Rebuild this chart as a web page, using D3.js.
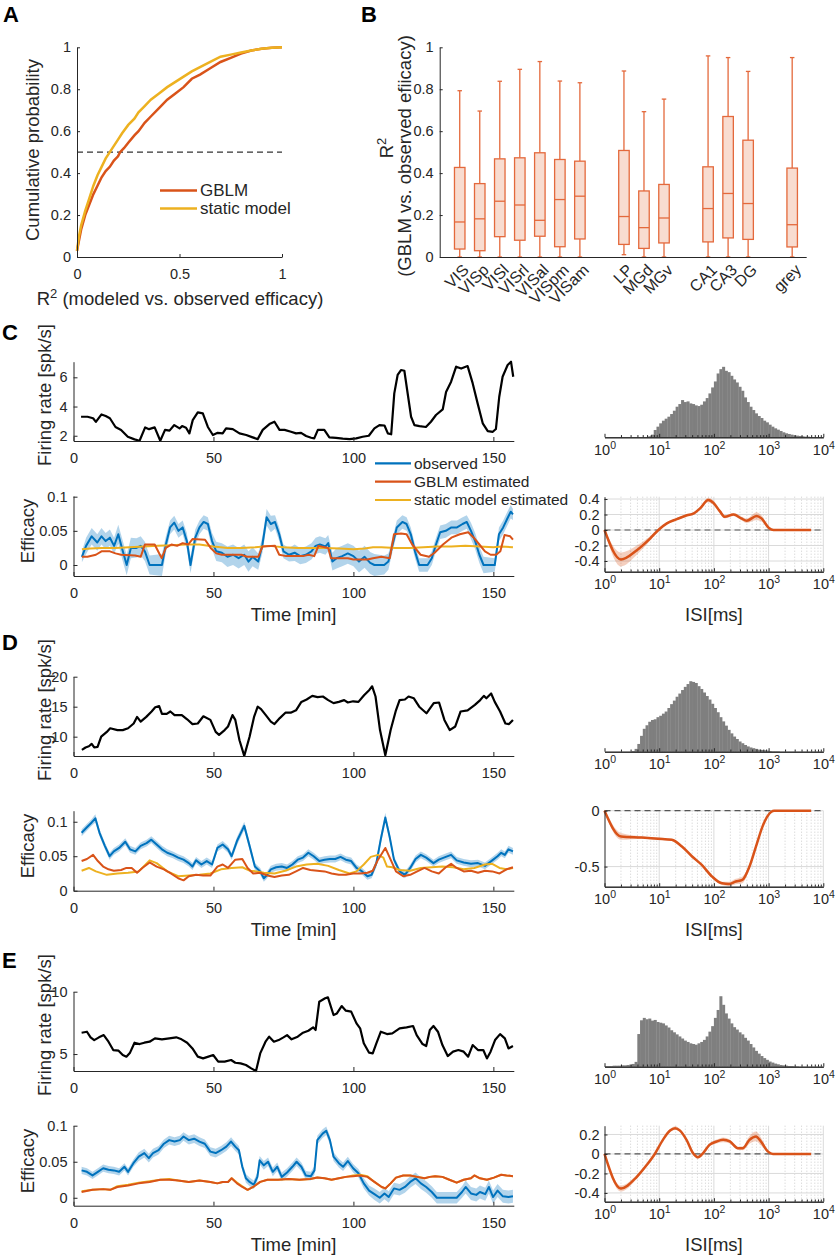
<!DOCTYPE html>
<html><head><meta charset="utf-8">
<script src="https://cdn.jsdelivr.net/npm/d3@7"></script>
<style>body{margin:0;background:#fff} svg{font-family:"Liberation Sans",Arial,Helvetica,sans-serif}</style>
</head><body><svg id="c" width="837" height="1257"></svg>
<script>
// ---------------- DATA ----------------
// Panel A: cumulative distributions of R^2
const cdfGBLM = [[0,0.03],[0.01,0.08],[0.02,0.13],[0.04,0.2],[0.06,0.25],[0.08,0.3],[0.1,0.34],[0.12,0.38],[0.14,0.41],[0.16,0.43],[0.18,0.46],[0.2,0.48],[0.21,0.5],[0.23,0.52],[0.25,0.545],[0.28,0.58],[0.3,0.6],[0.33,0.64],[0.36,0.67],[0.4,0.71],[0.44,0.75],[0.48,0.78],[0.52,0.81],[0.56,0.85],[0.6,0.87],[0.65,0.9],[0.7,0.93],[0.75,0.95],[0.8,0.97],[0.85,0.985],[0.9,0.993],[0.95,0.998],[1,1]];
const cdfStatic = [[0,0.03],[0.01,0.1],[0.02,0.15],[0.04,0.22],[0.06,0.28],[0.08,0.34],[0.1,0.39],[0.12,0.43],[0.14,0.47],[0.16,0.5],[0.18,0.53],[0.2,0.56],[0.22,0.59],[0.25,0.63],[0.28,0.66],[0.3,0.69],[0.33,0.72],[0.36,0.75],[0.4,0.78],[0.44,0.81],[0.48,0.835],[0.52,0.86],[0.56,0.885],[0.6,0.905],[0.65,0.93],[0.7,0.955],[0.75,0.965],[0.8,0.975],[0.85,0.985],[0.9,0.993],[0.95,0.998],[1,1]];

// Panel B: box statistics per brain region
const regions   = ["VIS","VISp","VISl","VISrl","VISal","VISpm","VISam","LP","MGd","MGv","CA1","CA3","DG","grey"];
const regionGrp = [0,0,0,0,0,0,0,1,1,1,2,2,2,3];
const boxLo     = [0,0,0,0,0,0,0,0.011,0,0,0,0,0,0];
const boxQ1     = [0.038,0.03,0.097,0.08,0.099,0.049,0.086,0.06,0.041,0.067,0.072,0.091,0.084,0.048];
const boxMed    = [0.167,0.182,0.266,0.248,0.175,0.274,0.29,0.193,0.14,0.186,0.231,0.303,0.255,0.154];
const boxQ3     = [0.427,0.35,0.468,0.473,0.497,0.465,0.457,0.508,0.315,0.346,0.43,0.67,0.557,0.424];
const boxHi     = [0.793,0.696,0.838,0.895,0.932,0.839,0.831,0.887,0.693,0.753,0.959,0.951,0.885,0.951];

// Panels C-E: firing rate [t(min), spk/s]
const frC = [[2.7,3.3],[5,3.3],[7,3.2],[8,2.95],[10,3.46],[11.5,3.35],[13,3.2],[15,2.6],[17,2.4],[19.4,1.93],[21.8,1.75],[23.6,1.66],[25.6,2.57],[27,2.45],[29,2.57],[31,1.66],[32.7,2.4],[34.3,2.35],[36,2.73],[37.9,2.5],[38.8,2.66],[40.2,2.55],[41.4,2.16],[42.6,3.07],[44.4,3.6],[46.2,3.53],[48,2.6],[49.8,2.05],[51.5,2.2],[53.3,2.16],[54.5,2.5],[56.9,2.45],[59.3,2.16],[61.7,2.05],[64,1.89],[65.8,1.77],[67.6,2.4],[70,2.8],[71.8,2.96],[73.6,2.4],[75.4,2.4],[77.7,2.27],[79.5,2.16],[81.3,2.2],[83.1,1.98],[84.9,1.86],[86,1.82],[87.3,2.4],[89.6,2.4],[91.4,1.89],[93.8,1.86],[96.2,1.8],[98.6,1.77],[101,1.82],[103.3,1.93],[105.5,2.0],[107.5,2.5],[109.3,2.73],[111.1,2.7],[112.3,2.16],[113.5,2.1],[114.6,4.9],[115.8,6.16],[117,6.5],[118.2,6.45],[119.2,5.13],[120.6,3.3],[121.8,2.73],[123.6,2.66],[125.9,2.6],[127.7,2.96],[129.5,3.42],[131.9,3.8],[133.1,5.0],[134.9,5.7],[136.7,6.73],[138.5,6.6],[140.8,6.77],[142.6,5.6],[144.4,4.2],[146.2,2.85],[148,2.32],[149.8,2.27],[150.9,2.46],[152.1,4.67],[153.3,6.04],[155.1,6.84],[156.3,7.07],[157.1,6.04]];
const frD = [[3,7.8],[4.3,8.2],[5.5,8.4],[6.5,8.8],[7.4,8.2],[8.6,8.3],[9.9,10],[11.9,10.8],[13.1,11.4],[15.7,11.1],[17.6,11.1],[19.5,11.4],[21.5,12.2],[22.7,13.3],[24,12.5],[26,13.3],[27.9,14.2],[29.2,14.9],[30.6,15.1],[31.6,13.8],[33.3,13.8],[34.6,14.2],[36.1,13.6],[38.7,13.6],[40.6,12.9],[42.5,12.1],[44.4,12.2],[46.4,13.4],[48.9,12.8],[50.8,10.8],[52,10.3],[54,11.1],[55.2,11.7],[56.8,13.6],[57.8,12.8],[59.3,9.4],[61,6.8],[62.9,10],[64.5,13.3],[65.8,15],[67,14.6],[68.7,13.6],[70.5,12.5],[71.8,12.1],[73.7,13.1],[75.7,14],[77.6,14],[79.5,14.4],[81.4,15.8],[83.3,16.2],[85.3,16.8],[87.2,16.6],[89.1,16.7],[91,16.1],[92.9,15.6],[94.8,15.8],[96.7,16.1],[98,15.7],[99.9,15.9],[101.8,15.8],[103.8,16.9],[105.7,17.8],[106.7,18.4],[107.9,16.7],[109.5,11.1],[111.4,6.9],[113.3,11.1],[115.2,14.4],[116.5,16.1],[118.4,16.2],[119.7,16.7],[121.6,16.4],[123.5,15],[126.1,13.9],[128.7,15.6],[130.6,15.7],[132.5,12.8],[134.4,11.1],[136.4,11.7],[138.3,14.2],[140.8,14.4],[143.4,15.3],[145.3,16.1],[146.6,16.8],[147.5,16.4],[149.2,17.2],[150.5,15.8],[152.4,14.2],[154.3,12.2],[155.6,12.1],[157,12.8]];
const frE = [[2.9,6.71],[4.8,6.79],[6.1,6.34],[7.4,6.12],[9.1,6.34],[10.8,6.52],[12.5,5.99],[14.2,5.32],[16.1,5.27],[17.6,4.92],[18.9,4.79],[20.2,5.11],[21.8,5.91],[23.6,5.8],[25.3,5.91],[27.2,5.99],[29.1,6.26],[31.6,6.18],[34.2,6.26],[36.7,6.34],[38.6,6.18],[40.6,5.91],[42.5,5.45],[44.4,4.79],[46.3,4.65],[48.2,4.79],[49.9,4.92],[51.7,4.39],[54,4.39],[56.3,4.52],[57.8,4.3],[59.7,4.25],[61.6,4.12],[63.5,3.85],[65.2,3.64],[66.7,5.05],[68.6,5.99],[69.9,6.39],[71.6,5.99],[73.3,6.12],[75,6.34],[76.3,6.52],[77.9,6.18],[80.1,6.39],[82,6.71],[83.9,6.87],[85.6,7.14],[86.5,6.93],[87.8,9.2],[89.9,9.47],[90.9,9.55],[92.9,8.13],[94.1,8.26],[95.8,8.85],[97.3,8.48],[99.2,8.4],[101.1,7.46],[102.4,7.06],[103.7,5.86],[105.6,5.11],[106.9,5.05],[108.2,5.86],[109.8,6.79],[112,6.6],[113.9,6.66],[116.5,7.06],[119,7.14],[121.3,7.25],[122.6,6.52],[124.7,5.8],[126,5.64],[127.3,6.93],[128.6,7.25],[130.2,6.79],[131.8,5.72],[133.7,4.84],[135.6,5.19],[137.5,5.32],[139.4,5.19],[141,4.79],[142.6,5.72],[144.5,5.32],[146.4,5.32],[147.7,4.65],[149,5.19],[150.6,6.12],[152.4,6.6],[154.1,6.26],[155.4,5.45],[157,5.64]];

// Efficacy: observed [t, value, CI half-width]
const obsC = [[3,0.012,0.008],[4.5,0.028,0.012],[6.5,0.042,0.012],[8.5,0.033,0.012],[10,0.042,0.012],[11.5,0.035,0.012],[13,0.04,0.012],[14.5,0.028,0.012],[16,0.045,0.014],[17.5,0.022,0.015],[19,0.0,0.015],[20.5,0.025,0.015],[22.5,0.025,0.014],[24,0.028,0.014],[25.5,0.02,0.014],[27.2,0.0,0.014],[31.6,0.0,0.016],[33,0.03,0.012],[34.5,0.055,0.01],[36,0.062,0.01],[37.5,0.05,0.01],[39,0.055,0.01],[40.5,0.035,0.012],[41.8,0.0,0.012],[43.5,0.04,0.012],[45,0.055,0.01],[46.5,0.063,0.01],[48,0.06,0.01],[49.5,0.035,0.012],[51,0.02,0.014],[53,0.018,0.014],[55,0.012,0.015],[57,0.015,0.015],[59,0.01,0.015],[61,0.015,0.015],[62.5,0.005,0.015],[64,0.012,0.014],[66,0.005,0.012],[67.5,0.03,0.012],[69,0.07,0.012],[70.5,0.06,0.012],[72,0.063,0.01],[73.5,0.045,0.01],[75,0.02,0.01],[77,0.015,0.01],[79,0.018,0.012],[81,0.013,0.012],[83,0.015,0.012],[85,0.02,0.012],[86.5,0.028,0.012],[88,0.03,0.012],[90,0.027,0.012],[91,0.032,0.012],[92.5,0.005,0.013],[94,0.01,0.015],[96,0.013,0.015],[98,0.017,0.015],[100,0.013,0.015],[102,0.005,0.016],[104,0.012,0.016],[106,0.003,0.016],[107.5,0.0,0.016],[111,0.0,0.014],[112.5,0.005,0.012],[114,0.03,0.01],[115.5,0.055,0.01],[117.5,0.063,0.01],[119,0.06,0.01],[120.5,0.045,0.01],[122,0.02,0.01],[123.5,0.0,0.01],[126.5,0.0,0.01],[128,0.01,0.01],[129.5,0.03,0.01],[131,0.048,0.01],[133,0.05,0.01],[135,0.055,0.01],[137,0.055,0.01],[139,0.06,0.01],[140.5,0.063,0.01],[142,0.05,0.012],[143.5,0.035,0.012],[145,0.015,0.012],[146.5,0.0,0.012],[150.5,0.0,0.01],[152,0.045,0.01],[153.5,0.055,0.01],[155,0.068,0.01],[156.2,0.078,0.01],[157,0.074,0.008]];
const obsD = [[2.9,0.084,0.005],[4.8,0.092,0.005],[6.5,0.099,0.005],[7.8,0.105,0.006],[9.3,0.084,0.005],[11.2,0.065,0.005],[12.9,0.05,0.005],[14.4,0.057,0.005],[16.3,0.062,0.005],[18.5,0.071,0.005],[20.2,0.06,0.005],[22.1,0.057,0.005],[24,0.065,0.005],[26.1,0.069,0.005],[27.8,0.074,0.005],[29.7,0.067,0.005],[31.6,0.06,0.005],[33.5,0.055,0.005],[35.5,0.052,0.005],[37.4,0.048,0.005],[39.3,0.045,0.005],[41.2,0.04,0.005],[42.5,0.035,0.005],[43.8,0.044,0.005],[45.7,0.038,0.005],[47.6,0.043,0.005],[49.5,0.038,0.005],[51.4,0.062,0.005],[53.3,0.067,0.005],[55.2,0.06,0.005],[56.5,0.05,0.005],[58.4,0.072,0.006],[61,0.094,0.006],[62.9,0.065,0.006],[64.8,0.035,0.005],[66.7,0.028,0.005],[68,0.018,0.005],[69,0.022,0.005],[70.5,0.031,0.005],[72.4,0.034,0.005],[74.4,0.035,0.005],[76.3,0.033,0.005],[78.2,0.038,0.005],[80.1,0.045,0.005],[82,0.048,0.005],[83.9,0.055,0.005],[85.8,0.05,0.005],[87.8,0.043,0.005],[89.7,0.045,0.005],[91.6,0.046,0.005],[93.5,0.046,0.005],[95.4,0.049,0.005],[97.3,0.045,0.005],[99.2,0.043,0.005],[101.1,0.033,0.005],[103.1,0.028,0.005],[105,0.021,0.005],[106.5,0.023,0.005],[108.2,0.04,0.006],[109.8,0.075,0.007],[111.4,0.106,0.007],[112.9,0.079,0.006],[114.5,0.045,0.005],[116.5,0.028,0.005],[118.4,0.023,0.005],[120.3,0.033,0.005],[122.2,0.046,0.005],[124.1,0.052,0.005],[126,0.048,0.005],[128.6,0.04,0.005],[130.5,0.045,0.005],[133,0.049,0.005],[134.9,0.052,0.005],[136.9,0.044,0.005],[139.4,0.041,0.005],[142,0.039,0.005],[144.5,0.04,0.005],[147,0.036,0.005],[149.6,0.044,0.005],[151.5,0.05,0.005],[152.8,0.055,0.005],[154.1,0.052,0.005],[155.4,0.06,0.005],[157,0.057,0.005]];
const obsE = [[2.9,0.038,0.005],[4.8,0.036,0.005],[6.8,0.031,0.005],[8.7,0.036,0.005],[10.6,0.041,0.005],[12.5,0.039,0.005],[14.4,0.038,0.005],[16.3,0.036,0.005],[18.2,0.043,0.005],[19.5,0.036,0.005],[21.4,0.048,0.005],[23.3,0.057,0.006],[25.3,0.062,0.006],[26.9,0.055,0.006],[28.4,0.062,0.006],[30.4,0.066,0.006],[32.3,0.075,0.006],[34.2,0.08,0.006],[36.1,0.078,0.006],[38,0.08,0.006],[39.3,0.085,0.006],[41.2,0.08,0.006],[43.1,0.082,0.006],[45,0.078,0.006],[46.9,0.075,0.006],[48.9,0.064,0.006],[50.8,0.062,0.006],[52.7,0.066,0.006],[54.6,0.071,0.006],[56.3,0.078,0.006],[57.8,0.071,0.006],[59.1,0.066,0.006],[60.3,0.043,0.006],[61.6,0.027,0.006],[62.9,0.022,0.006],[64.4,0.018,0.006],[65.7,0.029,0.006],[66.5,0.052,0.006],[68,0.045,0.006],[69.5,0.05,0.006],[71.2,0.036,0.006],[72.8,0.043,0.006],[74.4,0.029,0.006],[76.3,0.035,0.006],[78.2,0.043,0.006],[79.7,0.05,0.006],[81.4,0.043,0.006],[83,0.031,0.006],[84.8,0.03,0.006],[86.1,0.038,0.006],[87.1,0.08,0.006],[89,0.089,0.006],[90.3,0.093,0.006],[91.6,0.08,0.006],[92.9,0.057,0.006],[94.8,0.048,0.006],[96.3,0.043,0.006],[98,0.051,0.006],[99.9,0.041,0.006],[101.8,0.034,0.006],[103.7,0.02,0.007],[105.6,0.01,0.007],[107.5,0.005,0.008],[109.4,0,0.008],[111.1,0.006,0.008],[112.6,0.001,0.008],[114.5,0.013,0.008],[116.5,0.011,0.008],[118.4,0.015,0.008],[120.3,0.022,0.008],[122.2,0.027,0.008],[124.1,0.02,0.008],[126,0.015,0.008],[128,0.008,0.008],[129.8,0,0.008],[136.9,0,0.008],[138.8,0.008,0.008],[140.1,0.015,0.009],[142,0.006,0.009],[143.9,0.004,0.009],[145.2,0.008,0.009],[147.1,0.005,0.009],[148.4,0.015,0.009],[149.9,0.001,0.009],[151.5,0.01,0.009],[153.4,0.002,0.009],[155.4,0.001,0.009],[157,0.002,0.009]];

// Efficacy: GBLM estimate [t, value]
const gblmC = [[3,0.012],[5,0.012],[8,0.015],[10,0.02],[13,0.02],[15,0.017],[17,0.015],[22,0.014],[24,0.012],[25.5,0.03],[29,0.03],[30.5,0.018],[31.5,0.01],[33,0.025],[35,0.03],[37,0.028],[39,0.032],[41,0.03],[42.5,0.038],[47,0.037],[49,0.025],[51,0.017],[53,0.015],[60,0.015],[62,0.012],[66,0.012],[67.5,0.027],[72,0.028],[73.5,0.015],[76,0.013],[82,0.013],[84,0.015],[86,0.013],[87.5,0.028],[91,0.025],[92,0.01],[95,0.01],[98,0.01],[100,0.008],[105,0.008],[107,0.01],[110,0.012],[113,0.01],[114.5,0.045],[117,0.046],[119,0.045],[121,0.03],[124,0.015],[127,0.012],[129,0.018],[132,0.03],[135,0.04],[138,0.045],[141,0.048],[143,0.04],[145,0.03],[147,0.02],[149,0.015],[151,0.015],[152.5,0.02],[154,0.044],[156,0.042],[157,0.037]];
const gblmD = [[2.9,0.043],[4.8,0.046],[7,0.052],[8.7,0.043],[10.6,0.035],[12.5,0.031],[14.4,0.029],[17,0.03],[18.9,0.033],[20.8,0.033],[22.7,0.026],[24.6,0.033],[27.2,0.041],[29.7,0.035],[32.3,0.031],[34.8,0.025],[37.4,0.018],[39.3,0.015],[41.2,0.021],[43.8,0.023],[46.3,0.022],[48.9,0.022],[51.4,0.035],[53.3,0.038],[55.2,0.033],[57.8,0.045],[60.3,0.046],[62.2,0.033],[64.2,0.025],[66.7,0.026],[69.3,0.022],[71.8,0.02],[74.4,0.022],[76.9,0.023],[79.5,0.028],[82,0.033],[84.6,0.03],[87.1,0.029],[89.7,0.028],[92.2,0.025],[94.8,0.023],[97.3,0.023],[99.9,0.025],[102.4,0.025],[105,0.026],[106.9,0.029],[108.8,0.045],[111.4,0.062],[113.3,0.045],[115.2,0.028],[117.8,0.021],[120.3,0.023],[122.8,0.028],[125.4,0.033],[128,0.028],[130.5,0.025],[133,0.034],[134.9,0.039],[136.9,0.033],[139.4,0.028],[142,0.029],[144.5,0.026],[147,0.029],[149.6,0.028],[152.2,0.025],[154.7,0.031],[157,0.034]];
const gblmE = [[2.9,0.008],[6.8,0.011],[10.6,0.012],[13.1,0.011],[15.7,0.015],[19.5,0.017],[23.3,0.02],[27.2,0.022],[31,0.025],[34.2,0.025],[37.4,0.024],[41.2,0.022],[45,0.024],[48.9,0.022],[51.4,0.02],[53.3,0.022],[55.2,0.022],[56.5,0.027],[58.4,0.02],[60.3,0.015],[62.2,0.011],[64.2,0.015],[66.7,0.022],[69.3,0.025],[73.1,0.025],[76.9,0.026],[80.7,0.025],[84.6,0.026],[87.1,0.028],[89.7,0.027],[92.2,0.025],[94.8,0.027],[97.3,0.029],[99.9,0.03],[102.4,0.031],[105,0.029],[107.5,0.022],[110.1,0.015],[111.4,0.013],[113.3,0.02],[115.2,0.028],[117.8,0.031],[120.3,0.031],[122.8,0.029],[125.4,0.027],[127.3,0.029],[129.2,0.03],[131.8,0.029],[134.3,0.025],[136.9,0.021],[139.4,0.025],[142,0.027],[143.2,0.031],[145.2,0.027],[147.7,0.025],[150.2,0.028],[152.8,0.032],[154.7,0.031],[157,0.03]];

// Efficacy: static model estimate [t, value]
const staticC = [[3,0.023],[6,0.024],[10,0.025],[15,0.025],[20,0.026],[25,0.027],[30,0.028],[35,0.029],[40,0.03],[45,0.03],[50,0.027],[55,0.025],[60,0.025],[65,0.026],[70,0.028],[75,0.026],[80,0.025],[85,0.025],[90,0.025],[95,0.024],[100,0.023],[104,0.024],[107,0.026],[110,0.026],[115,0.025],[120,0.025],[125,0.026],[130,0.027],[135,0.027],[140,0.028],[145,0.027],[150,0.026],[153,0.027],[157,0.026]];
const staticD = [[2.9,0.029],[5.5,0.033],[8,0.028],[11.9,0.023],[15.7,0.025],[19.5,0.026],[23.3,0.028],[27.2,0.044],[29.7,0.04],[33.5,0.028],[37.4,0.021],[41.2,0.022],[45,0.023],[48.9,0.025],[52.7,0.031],[56.5,0.033],[60.3,0.034],[62.9,0.029],[65.4,0.028],[68,0.026],[71.8,0.025],[75.6,0.029],[79.5,0.035],[83.3,0.038],[87.1,0.039],[91,0.036],[94.8,0.03],[98.6,0.025],[101.1,0.028],[103.7,0.038],[106.2,0.049],[108.8,0.052],[110.7,0.048],[112,0.035],[113.9,0.034],[116.5,0.03],[120.3,0.029],[124.1,0.033],[128,0.034],[131.8,0.035],[135.6,0.034],[139.4,0.031],[143.2,0.033],[147,0.038],[149.6,0.039],[152.2,0.033],[154.7,0.031],[157,0.033]];
const staticE = [[2.9,0.009],[6.8,0.011],[10.6,0.012],[13.1,0.011],[15.7,0.016],[19.5,0.018],[23.3,0.021],[27.2,0.023],[31,0.025],[34.2,0.026],[37.4,0.024],[41.2,0.022],[45,0.024],[48.9,0.022],[51.4,0.02],[53.3,0.022],[55.2,0.022],[56.5,0.027],[58.4,0.021],[60.3,0.016],[62.2,0.011],[64.2,0.015],[66.7,0.022],[69.3,0.025],[73.1,0.025],[76.9,0.026],[80.7,0.025],[84.6,0.026],[87.1,0.028],[89.7,0.027],[92.2,0.025],[94.8,0.027],[97.3,0.029],[99.9,0.031],[102.4,0.032],[105,0.03],[107.5,0.022],[110.1,0.015],[111.4,0.013],[113.3,0.02],[115.2,0.028],[117.8,0.031],[120.3,0.031],[122.8,0.029],[125.4,0.027],[127.3,0.029],[129.2,0.03],[131.8,0.029],[134.3,0.025],[136.9,0.021],[139.4,0.025],[142,0.027],[143.2,0.031],[145.2,0.027],[147.7,0.025],[150.2,0.028],[152.8,0.032],[154.7,0.031],[157,0.03]];

// ISI histograms: counts in bins of 0.05 decade starting at 1 ms
const histBinDecades = 0.05;
const isiHistC = [0,0,0,0,0,0,0,0,0,0,0,0,0,0,0,1,3,8,22,32,42,50,56,62,70,80,92,100,112,106,108,102,100,96,94,98,108,118,132,150,168,192,205,212,200,196,185,174,165,152,140,120,106,92,82,72,64,58,50,45,38,32,27,23,19,15,12,10,8,6,5,4,3,2,2,1,0,1,0,0];
const isiHistD = [0,0,0,0,0,0,0,0,0,0,2,8,22,45,65,75,85,90,92,98,102,108,114,124,135,145,156,165,175,184,192,200,198,195,186,178,168,158,148,136,124,112,98,86,74,62,52,43,36,29,24,19,15,12,10,8,6,5,4,3,2,1,1,1,0,0,0,0,0,0,0,0,0,0,0,0,0,0,0,0];
const isiHistE = [2,2,2,3,3,3,4,4,5,6,8,14,95,135,142,138,140,134,136,130,128,126,120,114,106,100,94,88,82,76,72,68,66,64,68,72,78,88,102,118,142,165,205,180,155,140,126,115,108,100,94,84,76,66,56,46,38,31,25,20,15,12,9,7,5,4,3,2,2,1,1,0,0,0,0,0,0,0,0,0];

// Post-spike kernels [ISI ms, value, CI half-width]
const kernelC = [[1,0,0.01],[2,-0.38,0.09],[3.9,-0.26,0.06],[6.8,-0.11,0.03],[10,0.01,0.015],[13.8,0.086,0.015],[21,0.14,0.015],[32,0.19,0.015],[43,0.215,0.015],[56,0.28,0.02],[79,0.387,0.03],[98,0.35,0.03],[129,0.24,0.025],[158,0.17,0.02],[229,0.2,0.02],[316,0.15,0.025],[398,0.12,0.03],[603,0.18,0.05],[741,0.15,0.04],[1000,0.03,0.015],[1230,0,0.005],[6000,0,0.003]];
const kernelD = [[1,0,0.01],[2,-0.23,0.03],[4.8,-0.24,0.01],[9.5,-0.25,0.01],[17,-0.26,0.01],[26,-0.32,0.01],[40,-0.41,0.01],[60,-0.485,0.01],[93,-0.59,0.012],[141,-0.65,0.015],[190,-0.655,0.02],[251,-0.634,0.025],[331,-0.62,0.03],[447,-0.5,0.02],[589,-0.32,0.015],[776,-0.14,0.01],[1122,-0.01,0.005],[1259,0,0.003],[6000,0,0.003]];
const kernelE = [[1,0,0.01],[2,-0.355,0.03],[3.9,-0.234,0.02],[5.9,-0.114,0.015],[8.3,0,0.01],[11.7,0.145,0.01],[15.8,0.24,0.015],[19.5,0.265,0.02],[24,0.24,0.015],[31.6,0.145,0.012],[41.7,0.007,0.012],[51,-0.034,0.015],[63,0.007,0.012],[83,0.093,0.015],[112,0.128,0.02],[148,0.145,0.025],[195,0.128,0.02],[275,0.059,0.015],[339,0.059,0.02],[447,0.145,0.04],[589,0.18,0.05],[724,0.128,0.04],[977,0.024,0.01],[1200,0,0.005],[6000,0,0.003]];

// Tick values
const cdfYTicks = [0,0.2,0.4,0.6,0.8,1], cdfXTicks = [0,0.5,1];
const r2Ticks = [0,0.2,0.4,0.6,0.8,1];
const timeTicks = [0,50,100,150];
const frTicksC = [2,4,6], frTicksD = [10,15,20], frTicksE = [5,10];
const effTicks = [0,0.05,0.1];
const isiTicks = [1,10,100,1000,10000];
const kTicksC = [-0.4,-0.2,0,0.2,0.4], kTicksD = [-0.5,0], kTicksE = [-0.4,-0.2,0,0.2];

// ---------------- DRAWING ----------------
const svg = d3.select('#c');
const RED='#D95319', BLUE='#0072BD', YEL='#EDB120', INK='#262626';
const FT=14.5, FL=18.5;
const fmt = d => String(d);

function st(g, fs){
  g.attr('font-family',null).attr('font-size',fs||FT);
  g.select('.domain').attr('stroke',INK).attr('stroke-width',1);
  g.selectAll('.tick line').attr('stroke',INK);
  g.selectAll('.tick text').attr('fill',INK);
}
function label(x,y,txt,opt){
  opt=opt||{};
  const t=svg.append('text').attr('transform',`translate(${x},${y})`+(opt.rot?` rotate(${opt.rot})`:''))
    .attr('text-anchor',opt.anchor||'middle').attr('dy',opt.dy||'0.35em')
    .attr('font-size',opt.fs||FL).attr('fill',INK);
  if(opt.bold) t.attr('font-weight','bold');
  t.text(txt); return t;
}
function letter(x,y,s){ svg.append('text').attr('x',x).attr('y',y).attr('font-size',22).attr('font-weight','bold').attr('fill','#000').text(s); }

// ===== Panel A =====
(function(){
  const x=d3.scaleLinear([0,1],[77,282]), y=d3.scaleLinear([0,1],[257,47.3]);
  const g=svg.append('g');
  g.append('line').attr('x1',x(0)).attr('x2',x(1)).attr('y1',y(0.5)).attr('y2',y(0.5))
    .attr('stroke','#333').attr('stroke-width',1.4).attr('stroke-dasharray','6,4');
  const ln=d3.line().x(d=>x(d[0])).y(d=>y(d[1]));
  g.append('path').datum(cdfGBLM).attr('d',ln).attr('fill','none').attr('stroke',RED).attr('stroke-width',2.5);
  g.append('path').datum(cdfStatic).attr('d',ln).attr('fill','none').attr('stroke',YEL).attr('stroke-width',2.5);
  g.append('g').attr('transform',`translate(0,${y(0)})`).call(d3.axisBottom(x).tickValues(cdfXTicks).tickFormat(fmt).tickSize(-3).tickSizeOuter(0).tickPadding(12)).call(st);
  g.append('g').attr('transform',`translate(${x(0)},0)`).call(d3.axisLeft(y).tickValues(cdfYTicks).tickFormat(fmt).tickSize(-3).tickSizeOuter(0).tickPadding(6)).call(st);
  // legend
  [[RED,'GBLM',190.5],[YEL,'static model',208.5]].forEach(([c,s,yy])=>{
    g.append('line').attr('x1',160).attr('x2',197).attr('y1',yy).attr('y2',yy).attr('stroke',c).attr('stroke-width',2.5);
    g.append('text').attr('x',200).attr('y',yy).attr('dy','0.35em').attr('font-size',17).attr('fill',INK).text(s);
  });
  label(33,150,'Cumulative probability',{rot:-90});
  const t=svg.append('text').attr('x',180).attr('y',305).attr('text-anchor','middle').attr('font-size',FL).attr('fill',INK);
  t.append('tspan').text('R'); t.append('tspan').attr('dy',-7).attr('font-size',13).text('2');
  t.append('tspan').attr('dy',7).text(' (modeled vs. observed efficacy)');
  letter(3,22,'A');
})();

// ===== Panel B =====
(function(){
  const pos = regions.map((r,i)=> i+1+regionGrp[i]*1.2);
  const x=d3.scaleLinear([0,18.3],[439.7,806.2]), y=d3.scaleLinear([0,1],[257,47.3]);
  const g=svg.append('g');
  const BC='#E4693C', BF='#F8DCD0', bw=10.5, cw=4.5;
  regions.forEach((r,i)=>{
    const cx=x(pos[i]);
    g.append('line').attr('x1',cx).attr('x2',cx).attr('y1',y(boxQ3[i])).attr('y2',y(boxHi[i])).attr('stroke',BC).attr('stroke-width',1.3);
    g.append('line').attr('x1',cx).attr('x2',cx).attr('y1',y(boxQ1[i])).attr('y2',y(boxLo[i])).attr('stroke',BC).attr('stroke-width',1.3);
    [boxHi[i],boxLo[i]].forEach(v=>g.append('line').attr('x1',cx-cw/2).attr('x2',cx+cw/2).attr('y1',y(v)).attr('y2',y(v)).attr('stroke',BC).attr('stroke-width',1.3));
    g.append('rect').attr('x',cx-bw/2).attr('width',bw).attr('y',y(boxQ3[i])).attr('height',y(boxQ1[i])-y(boxQ3[i]))
      .attr('fill',BF).attr('stroke',BC).attr('stroke-width',1.3);
    g.append('line').attr('x1',cx-bw/2).attr('x2',cx+bw/2).attr('y1',y(boxMed[i])).attr('y2',y(boxMed[i])).attr('stroke',BC).attr('stroke-width',1.3);
    g.append('text').attr('transform',`translate(${cx+6},${y(0)+10}) rotate(-45)`).attr('text-anchor','end').attr('dy','0.35em')
      .attr('font-size',16).attr('fill',INK).text(r);
  });
  g.append('g').attr('transform',`translate(0,${y(0)})`).call(d3.axisBottom(x).tickValues([]).tickSizeOuter(0)).call(st);
  g.append('g').attr('transform',`translate(${x(0)},0)`).call(d3.axisLeft(y).tickValues(r2Ticks).tickFormat(fmt).tickSize(-3).tickSizeOuter(0).tickPadding(6)).call(st);
  const t=svg.append('text').attr('transform','translate(387,148) rotate(-90)').attr('text-anchor','middle').attr('dy','0.35em').attr('font-size',FL).attr('fill',INK);
  t.append('tspan').text('R'); t.append('tspan').attr('dy',-7).attr('font-size',13).text('2');
  label(405,156,'(GBLM vs. observed efiicacy)',{rot:-90});
  letter(361,22,'B');
})();

// ===== Time-course rows =====
const xT = d3.scaleLinear([0,157.3],[73.5,513.8]);
function timeRow(c){
  const g=svg.append('g');
  const yF=d3.scaleLinear(c.frDom,[c.frBot,c.frTop]);
  g.append('path').datum(c.fr).attr('d',d3.line().x(d=>xT(d[0])).y(d=>yF(d[1])))
    .attr('fill','none').attr('stroke','#000').attr('stroke-width',2.2).attr('stroke-linejoin','round');
  g.append('g').attr('transform',`translate(0,${c.frBot})`).call(d3.axisBottom(xT).tickValues(timeTicks).tickFormat(fmt).tickSize(-4).tickSizeOuter(0).tickPadding(12)).call(st);
  g.append('g').attr('transform',`translate(${xT(0)},0)`).call(d3.axisLeft(yF).tickValues(c.frTicks).tickFormat(fmt).tickSize(-4).tickSizeOuter(0).tickPadding(6)).call(st);

  const yE=d3.scaleLinear(c.effDom,[c.effBot,c.effTop]);
  g.append('path').datum(c.obs).attr('d',d3.area().x(d=>xT(d[0])).y0(d=>yE(d[1]-d[2])).y1(d=>yE(d[1]+d[2])))
    .attr('fill',BLUE).attr('fill-opacity',0.3).attr('stroke','none');
  const ln=d3.line().x(d=>xT(d[0])).y(d=>yE(d[1]));
  g.append('path').datum(c.obs).attr('d',ln).attr('fill','none').attr('stroke',BLUE).attr('stroke-width',2).attr('stroke-linejoin','round');
  g.append('path').datum(c.stat).attr('d',ln).attr('fill','none').attr('stroke',YEL).attr('stroke-width',2).attr('stroke-linejoin','round');
  g.append('path').datum(c.gblm).attr('d',ln).attr('fill','none').attr('stroke',RED).attr('stroke-width',2).attr('stroke-linejoin','round');
  g.append('g').attr('transform',`translate(0,${c.effBot})`).call(d3.axisBottom(xT).tickValues(timeTicks).tickFormat(fmt).tickSize(-4).tickSizeOuter(0).tickPadding(12)).call(st);
  g.append('g').attr('transform',`translate(${xT(0)},0)`).call(d3.axisLeft(yE).tickValues(effTicks).tickFormat(fmt).tickSize(-4).tickSizeOuter(0).tickPadding(6)).call(st);

  label(45,c.frLabY,'Firing rate [spk/s]',{rot:-90});
  label(28,c.effLabY,'Efficacy',{rot:-90});
  label((xT.range()[0]+xT.range()[1])/2,c.xLabY,'Time [min]');
  letter(2,c.letterY,c.letter);
}

// ===== ISI histogram & kernel =====
const xL = d3.scaleLog([1,1e4],[604.5,823.3]);
const minorLog = [];
[1,10,100,1000].forEach(d=>{ for(let k=2;k<=9;k++) minorLog.push(k*d); });
function logLabels(g){
  g.selectAll('.tick text').each(function(d){
    const t=d3.select(this); t.text(null);
    t.append('tspan').text('10');
    t.append('tspan').attr('dy','-0.55em').attr('font-size',10.5).text(Math.round(Math.log10(d)));
  });
}
function logAxis(g, y0){
  g.append('g').attr('transform',`translate(0,${y0})`).call(d3.axisBottom(xL).tickValues(minorLog).tickFormat('').tickSize(-2.2).tickSizeOuter(0)).call(st);
  g.append('g').attr('transform',`translate(0,${y0})`).call(d3.axisBottom(xL).tickValues(isiTicks).tickSize(-3.5).tickSizeOuter(0).tickPadding(7)).call(st).call(logLabels);
}
function isiHist(c){
  const g=svg.append('g');
  const y=d3.scaleLinear([0,d3.max(c.counts)*1.05],[c.base,c.base-74]);
  g.selectAll('rect').data(c.counts).join('rect')
    .attr('x',(d,i)=>xL(Math.pow(10,i*histBinDecades)))
    .attr('width',(d,i)=>xL(Math.pow(10,(i+1)*histBinDecades))-xL(Math.pow(10,i*histBinDecades))+0.3)
    .attr('y',d=>y(d)).attr('height',d=>c.base-y(d)).attr('fill','#7f7f7f');
  logAxis(g,c.base);
}
function kernel(c){
  const g=svg.append('g');
  const y=d3.scaleLinear(c.dom,[c.bot,c.top]);
  g.selectAll('.mg').data(minorLog).join('line').attr('x1',d=>xL(d)).attr('x2',d=>xL(d)).attr('y1',c.top).attr('y2',c.bot)
    .attr('stroke','#b8b8b8').attr('stroke-width',0.7).attr('stroke-dasharray','1,2');
  g.selectAll('.Mg').data(isiTicks.slice(1)).join('line').attr('x1',d=>xL(d)).attr('x2',d=>xL(d)).attr('y1',c.top).attr('y2',c.bot)
    .attr('stroke','#dadada').attr('stroke-width',1);
  g.selectAll('.hg').data(c.ticks).join('line').attr('x1',xL(1)).attr('x2',xL(1e4)).attr('y1',d=>y(d)).attr('y2',d=>y(d))
    .attr('stroke','#dadada').attr('stroke-width',1);
  g.append('line').attr('x1',xL(1)).attr('x2',xL(1e4)).attr('y1',y(0)).attr('y2',y(0))
    .attr('stroke','#555').attr('stroke-width',1.2).attr('stroke-dasharray','6,4');
  g.append('path').datum(c.k).attr('d',d3.area().curve(d3.curveMonotoneX).x(d=>xL(d[0])).y0(d=>y(d[1]-d[2])).y1(d=>y(d[1]+d[2])))
    .attr('fill',RED).attr('fill-opacity',0.28);
  g.append('path').datum(c.k).attr('d',d3.line().curve(d3.curveMonotoneX).x(d=>xL(d[0])).y(d=>y(d[1])))
    .attr('fill','none').attr('stroke',RED).attr('stroke-width',2.5);
  logAxis(g,c.bot);
  g.append('g').attr('transform',`translate(${xL(1)},0)`).call(d3.axisLeft(y).tickValues(c.ticks).tickFormat(fmt).tickSize(-3).tickSizeOuter(0).tickPadding(5)).call(st);
  label((xL.range()[0]+xL.range()[1])/2,c.xLabY,'ISI[ms]');
}

const rows = [
  {letter:'C',letterY:340,fr:frC,frDom:[1.64,7.07],frBot:441,frTop:361.7,frTicks:frTicksC,
   obs:obsC,gblm:gblmC,stat:staticC,effDom:[-0.0161,0.101],effBot:576,effTop:496,
   frLabY:395,effLabY:531,xLabY:615,hist:isiHistC,hBase:437.3,
   k:kernelC,kDom:[-0.538,0.43],kBot:571.7,kTop:496.7,kTicks:kTicksC},
  {letter:'D',letterY:650,fr:frD,frDom:[6.78,20],frBot:756,frTop:676.7,frTicks:frTicksD,
   obs:obsD,gblm:gblmD,stat:staticD,effDom:[0,0.116],effBot:890.7,effTop:810.7,
   frLabY:710,effLabY:846,xLabY:930,hist:isiHistD,hBase:751.7,
   k:kernelD,kDom:[-0.68,0],kBot:886.7,kTop:810.7,kTicks:kTicksD},
  {letter:'E',letterY:968,fr:frE,frDom:[3.64,10],frBot:1071,frTop:991.7,frTicks:frTicksE,
   obs:obsE,gblm:gblmE,stat:staticE,effDom:[-0.011,0.1],effBot:1205.7,effTop:1125.7,
   frLabY:1025,effLabY:1161,xLabY:1245,hist:isiHistE,hBase:1066.7,
   k:kernelE,kDom:[-0.49,0.29],kBot:1201.7,kTop:1125.7,kTicks:kTicksE}
];
rows.forEach(r=>{
  timeRow(r);
  isiHist({counts:r.hist,base:r.hBase});
  kernel({k:r.k,dom:r.kDom,bot:r.kBot,top:r.kTop,ticks:r.kTicks,xLabY:r.xLabY});
});

// legend in C
[[BLUE,'observed',463.3],[RED,'GBLM estimated',481.7],[YEL,'static model estimated',500]].forEach(([c,s,yy])=>{
  svg.append('line').attr('x1',375).attr('x2',411).attr('y1',yy).attr('y2',yy).attr('stroke',c).attr('stroke-width',2.2);
  svg.append('text').attr('x',414).attr('y',yy).attr('dy','0.35em').attr('font-size',15.5).attr('fill',INK).text(s);
});
</script></body></html>
